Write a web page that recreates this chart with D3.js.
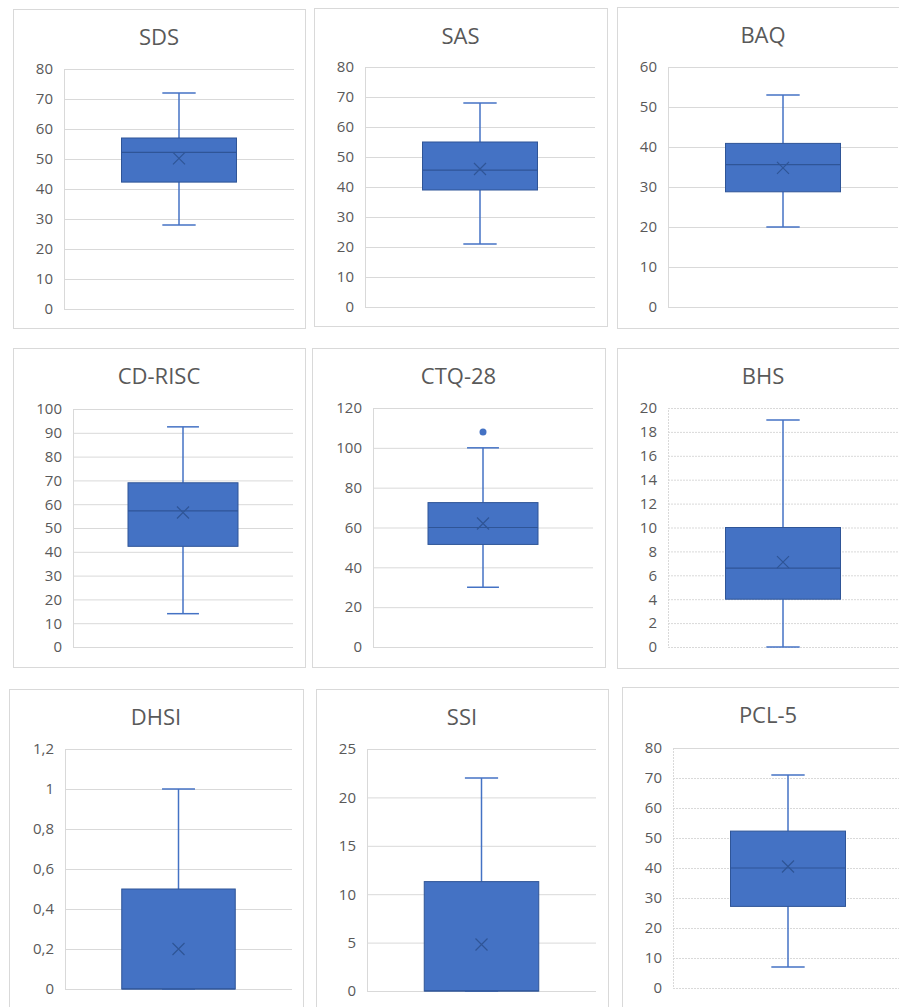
<!DOCTYPE html>
<html>
<head>
<meta charset="utf-8">
<script src="https://cdn.jsdelivr.net/npm/d3@7"></script>
<style>
  html, body { margin: 0; padding: 0; background: #fff; }
  svg { display: block; }
  text { font-family: "Open Sans", "Noto Sans", sans-serif; fill: #595959; }
</style>
</head>
<body>
<svg id="chart" width="899" height="1007"></svg>
<script>
// ---- Data ----
const titles   = ["SDS", "SAS", "BAQ", "CD-RISC", "CTQ-28", "BHS", "DHSI", "SSI", "PCL-5"];
const yMaxes   = [80, 80, 60, 100, 120, 20, 1.2, 25, 80];
const ySteps   = [10, 10, 10, 10, 20, 2, 0.2, 5, 10];
const mins     = [28, 21, 20, 14, 30, 0, 0, 0, 7];
const q1s      = [42.3, 39, 28.8, 42.3, 51.5, 4, 0, 0, 27.2];
const medians  = [52.2, 45.6, 35.6, 57.2, 60, 6.6, 0, 0, 40];
const q3s      = [57, 55, 40.9, 69, 72.5, 10, 0.5, 11.3, 52.3];
const maxs     = [72, 68, 53, 92.5, 100, 19, 1, 22, 71];
const means    = [50.2, 46, 34.8, 56.5, 62, 7.1, 0.2, 4.8, 40.5];
const outliers = [[], [], [], [], [108], [], [], [], []];

// ---- Layout (panel frames & plot areas) ----
const layout = [
  {bx: 13,  by: 9,   bw: 292, bh: 319, px0: 64,  px1: 294, py0: 69,  py1: 309, dash: null},
  {bx: 314, by: 8,   bw: 293, bh: 318, px0: 365, px1: 595, py0: 67,  py1: 307, dash: null},
  {bx: 617, by: 7,   bw: 292, bh: 321, px0: 668, px1: 898, py0: 67,  py1: 307, dash: null},
  {bx: 13,  by: 348, bw: 292, bh: 319, px0: 73,  px1: 293, py0: 409, py1: 647, dash: null},
  {bx: 312, by: 348, bw: 293, bh: 319, px0: 373, px1: 593, py0: 408, py1: 647, dash: null},
  {bx: 617, by: 348, bw: 292, bh: 320, px0: 668, px1: 898, py0: 408, py1: 647, dash: "2,1"},
  {bx: 9,   by: 689, bw: 294, bh: 330, px0: 65,  px1: 292, py0: 749, py1: 989, dash: null},
  {bx: 316, by: 689, bw: 292, bh: 330, px0: 367, px1: 596, py0: 749, py1: 991, dash: null},
  {bx: 622, by: 687, bw: 292, bh: 330, px0: 673, px1: 903, py0: 748, py1: 988, dash: "2,1"}
];

const fillColor = "#4472c4";
const darkBlue = "#2f5597";
const gridColor = "#d9d9d9";
const fmt = v => String(+v.toFixed(2)).replace(".", ",");

const svg = d3.select("#chart");

titles.forEach((title, i) => {
  const L = layout[i];
  const g = svg.append("g");

  // panel frame
  g.append("rect")
    .attr("x", L.bx + 0.5).attr("y", L.by + 0.5)
    .attr("width", L.bw).attr("height", L.bh)
    .attr("fill", "#fff").attr("stroke", "#d9d9d9").attr("stroke-width", 1);

  // title
  g.append("text")
    .attr("x", L.bx + L.bw / 2).attr("y", L.by + 36)
    .attr("text-anchor", "middle")
    .style("font-size", "22px")
    .text(title);

  const y = d3.scaleLinear().domain([0, yMaxes[i]]).range([L.py1, L.py0]);
  const x = d3.scaleBand().domain([title]).range([L.px0, L.px1]).paddingInner(0).paddingOuter(0.5);
  const ticks = d3.range(0, yMaxes[i] + ySteps[i] / 2, ySteps[i]);

  // y axis with gridlines
  const axis = d3.axisLeft(y).tickValues(ticks).tickFormat(fmt)
    .tickSize(-(L.px1 - L.px0)).tickPadding(11);
  const ag = g.append("g").attr("transform", `translate(${L.px0},0)`).call(axis);
  ag.select(".domain").attr("stroke", gridColor).attr("stroke-dasharray", L.dash);
  ag.selectAll(".tick line").attr("stroke", gridColor).attr("stroke-width", 1)
    .attr("stroke-dasharray", L.dash);
  ag.selectAll(".tick text").style("font-size", "15px").attr("fill", "#595959")
    .style("font-family", '"Open Sans", sans-serif');

  const cx = x(title) + x.bandwidth() / 2;
  const bw = x.bandwidth();
  const capW = bw * 0.29;

  // whiskers
  g.append("line").attr("x1", cx).attr("x2", cx)
    .attr("y1", y(q3s[i])).attr("y2", y(maxs[i]))
    .attr("stroke", fillColor).attr("stroke-width", 1.5);
  g.append("line").attr("x1", cx).attr("x2", cx)
    .attr("y1", y(q1s[i])).attr("y2", y(mins[i]))
    .attr("stroke", fillColor).attr("stroke-width", 1.5);
  [maxs[i], mins[i]].forEach(v => {
    g.append("line").attr("x1", cx - capW / 2).attr("x2", cx + capW / 2)
      .attr("y1", y(v)).attr("y2", y(v))
      .attr("stroke", fillColor).attr("stroke-width", 1.5);
  });

  // box
  g.append("rect")
    .attr("x", x(title)).attr("width", bw)
    .attr("y", y(q3s[i])).attr("height", y(q1s[i]) - y(q3s[i]))
    .attr("fill", fillColor).attr("stroke", darkBlue).attr("stroke-width", 1);

  // median
  g.append("line").attr("x1", x(title)).attr("x2", x(title) + bw)
    .attr("y1", y(medians[i])).attr("y2", y(medians[i]))
    .attr("stroke", darkBlue).attr("stroke-width", 1.2);

  // mean marker (x)
  const my = y(means[i]), s = 6;
  g.append("path")
    .attr("d", `M${cx - s},${my - s}L${cx + s},${my + s}M${cx - s},${my + s}L${cx + s},${my - s}`)
    .attr("stroke", darkBlue).attr("stroke-width", 1.2).attr("fill", "none");

  // outliers
  g.selectAll("circle.out").data(outliers[i]).enter().append("circle")
    .attr("class", "out")
    .attr("cx", cx).attr("cy", d => y(d)).attr("r", 3.5)
    .attr("fill", fillColor);
});
</script>
</body>
</html>
